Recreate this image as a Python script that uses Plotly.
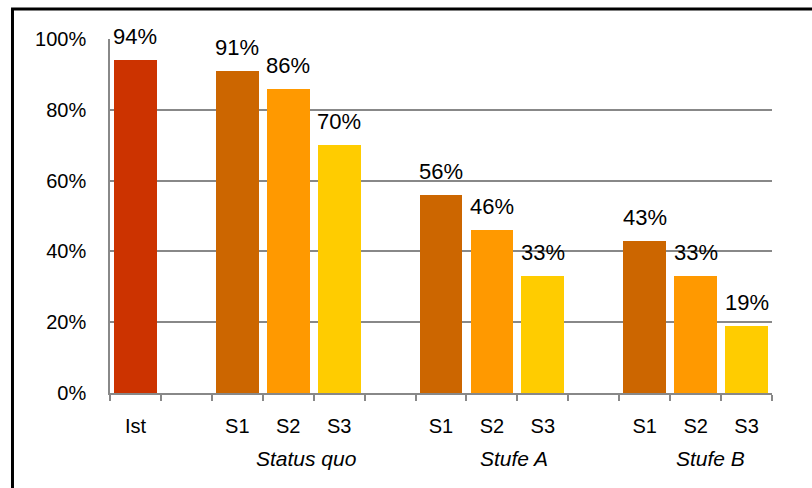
import plotly.graph_objects as go

# Category slots along the x axis ("" marks an empty spacer slot)
slot_labels = ["Ist", "", "S1", "S2", "S3", "", "S1", "S2", "S3", "", "S1", "S2", "S3"]
# Share per slot in percent (None for spacer slots)
values = [94, None, 91, 86, 70, None, 56, 46, 33, None, 43, 33, 19]
colors = ["#CC3300", "#FFFFFF",
          "#CC6600", "#FF9900", "#FFCC00", "#FFFFFF",
          "#CC6600", "#FF9900", "#FFCC00", "#FFFFFF",
          "#CC6600", "#FF9900", "#FFCC00"]
# Scenario groups and the slot position their caption is centred on
group_names = ["Status quo", "Stufe A", "Stufe B"]
group_pos = [3.35, 7.44, 11.29]

y_ticks = [0, 20, 40, 60, 80, 100]

FONT = "Arial, Liberation Sans, sans-serif"

xs = list(range(len(slot_labels)))
bar_x = [x for x, v in zip(xs, values) if v is not None]
bar_y = [v for v in values if v is not None]
bar_c = [c for c, v in zip(colors, values) if v is not None]

fig = go.Figure()
fig.add_trace(go.Bar(
    x=bar_x, y=bar_y,
    marker=dict(color=bar_c, line=dict(width=0)),
    width=0.84,
    hoverinfo="skip",
))

# Value labels above each bar
for x, v in zip(bar_x, bar_y):
    fig.add_annotation(
        x=x, y=v, text=f"{v}%", showarrow=False,
        xanchor="center", yanchor="bottom", yshift=9,
        font=dict(family=FONT, size=22, color="#000000"),
    )

# Group captions below the slot labels
for name, pos in zip(group_names, group_pos):
    fig.add_annotation(
        x=pos, y=0, yref="paper", text=f"<i>{name}</i>", showarrow=False,
        xanchor="center", yanchor="middle", yshift=-65,
        font=dict(family=FONT, size=21, color="#000000"),
    )

tick_x = [x for x, lab in zip(xs, slot_labels) if lab]
tick_t = [lab for lab in slot_labels if lab]

fig.update_xaxes(
    range=[-0.5, len(slot_labels) - 0.5],
    tickmode="array", tickvals=tick_x, ticktext=tick_t,
    ticks="", ticklabelstandoff=14,
    tickfont=dict(family=FONT, size=20, color="#000000"),
    showline=True, linecolor="#888888", linewidth=1.5,
    showgrid=False, zeroline=False,
    minor=dict(tickvals=[i - 0.5 for i in range(len(slot_labels) + 1)],
               ticks="outside", ticklen=6, tickcolor="#888888", tickwidth=1.5,
               showgrid=False),
    fixedrange=True,
)
fig.update_yaxes(
    range=[0, 100],
    tickmode="array", tickvals=y_ticks, ticktext=[f"{t}%" for t in y_ticks],
    ticks="", ticklabelstandoff=18,
    tickfont=dict(family=FONT, size=20, color="#000000"),
    showgrid=True, gridcolor="#888888", gridwidth=1.5,
    showline=True, linecolor="#888888", linewidth=1.5,
    zeroline=False, fixedrange=True,
)

# Black frame on the left and top edges of the page
fig.add_shape(type="line", xref="paper", yref="paper",
              x0=-0.1473, x1=-0.1473, y0=1.0846, y1=-0.5,
              line=dict(color="#000000", width=3))
fig.add_shape(type="line", xref="paper", yref="paper",
              x0=-0.1495, x1=1.2, y0=1.0846, y1=1.0846,
              line=dict(color="#000000", width=3))

fig.update_layout(
    width=812, height=488,
    margin=dict(l=110, r=40, t=38.5, b=95),
    paper_bgcolor="#FFFFFF", plot_bgcolor="#FFFFFF",
    showlegend=False, bargap=0,
    font=dict(family=FONT, color="#000000"),
)

fig.write_html("out.html", config={"displayModeBar": False})
